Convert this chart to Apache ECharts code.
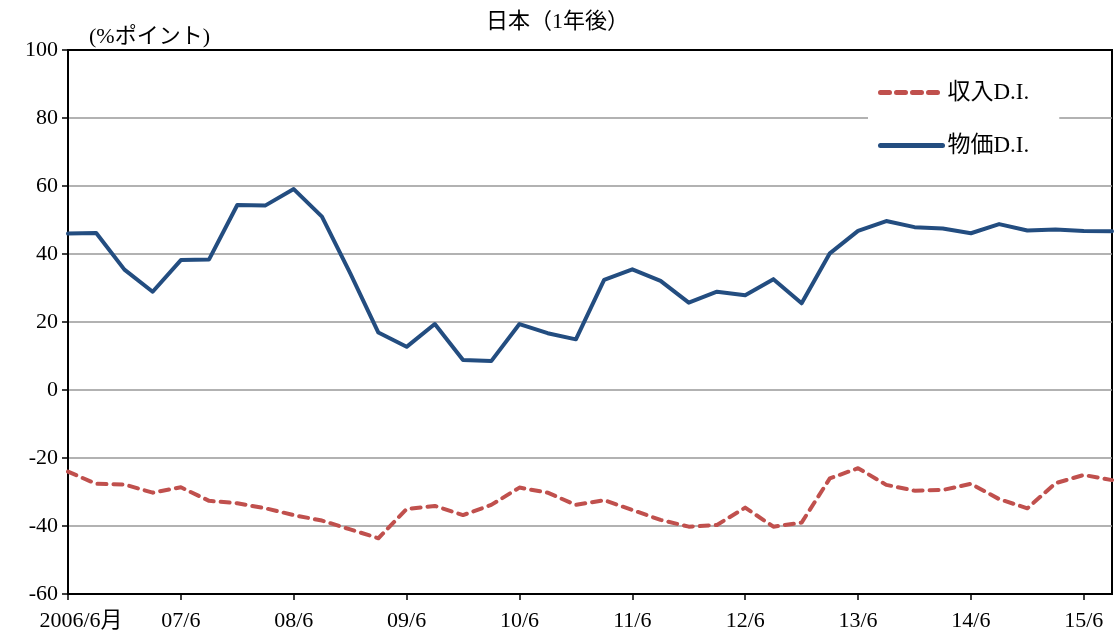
<!DOCTYPE html>
<html>
<head>
<meta charset="utf-8">
<script src="https://cdn.jsdelivr.net/npm/echarts@6/dist/echarts.min.js"></script>
<style>
  html, body { margin: 0; padding: 0; background: #fff; }
  #chart { width: 1115px; height: 638px; }
</style>
</head>
<body>
<div id="chart"></div>
<script>
// 四半期（2006/6 ～ 2015/9）
const quarters = [
  '06/6', '06/9', '06/12', '07/3', '07/6', '07/9', '07/12', '08/3',
  '08/6', '08/9', '08/12', '09/3', '09/6', '09/9', '09/12', '10/3',
  '10/6', '10/9', '10/12', '11/3', '11/6', '11/9', '11/12', '12/3',
  '12/6', '12/9', '12/12', '13/3', '13/6', '13/9', '13/12', '14/3',
  '14/6', '14/9', '14/12', '15/3', '15/6', '15/9'
]
// 収入D.I.
const incomeDI = [
  -24, -27.6, -27.8, -30.2, -28.6, -32.6, -33.3, -34.8,
  -36.8, -38.4, -41, -43.6, -35, -34.1, -36.8, -33.8,
  -28.7, -30.2, -33.8, -32.4, -35.3, -38.2, -40.2, -39.7,
  -34.6, -40.2, -39, -26, -23, -27.9, -29.6, -29.4,
  -27.6, -32.1, -34.8, -27.4, -25, -26.5
]
// 物価D.I.
const priceDI = [
  46, 46.2, 35.4, 28.9, 38.2, 38.4, 54.4, 54.3,
  59.1, 51, 34.4, 16.9, 12.7, 19.4, 8.8, 8.5,
  19.4, 16.7, 14.9, 32.4, 35.5, 32.1, 25.7, 28.9,
  27.9, 32.6, 25.5, 40.2, 46.8, 49.7, 47.9, 47.5,
  46.1, 48.8, 46.9, 47.2, 46.8, 46.7
]

const serifFont = "'Liberation Serif', 'Noto Sans CJK JP', serif"
const chart = echarts.init(document.getElementById('chart'))

const option = {
  animation: false,
  backgroundColor: '#fff',
  textStyle: { fontFamily: serifFont, color: '#000' },
  title: [
    {
      text: '日本（1年後）',
      left: 'center',
      top: 6,
      textStyle: { fontFamily: serifFont, fontSize: 22, fontWeight: 'normal', color: '#000' }
    },
    {
      text: '(%ポイント)',
      left: 84,
      top: 21,
      textStyle: { fontFamily: serifFont, fontSize: 22, fontWeight: 'normal', color: '#000' }
    }
  ],
  grid: {
    left: 68,
    right: 3,
    top: 50,
    bottom: 44,
    show: true,
    borderColor: '#000',
    borderWidth: 2,
    backgroundColor: '#fff'
  },
  legend: {
    orient: 'vertical',
    left: 868,
    top: 73,
    padding: [8, 30, 8, 10],
    backgroundColor: '#fff',
    itemWidth: 62,
    itemHeight: 14,
    itemGap: 30,
    data: ['収入D.I.', '物価D.I.'],
    itemStyle: { opacity: 0 },
    lineStyle: { width: 5 },
    textStyle: { fontFamily: serifFont, fontSize: 23, color: '#000' }
  },
  xAxis: {
    type: 'category',
    data: quarters,
    boundaryGap: false,
    axisLine: { show: true, onZero: false, lineStyle: { color: '#000', width: 2 } },
    axisTick: { show: true, interval: 3, length: 6, lineStyle: { color: '#000', width: 1.5 } },
    axisLabel: {
      interval: 3,
      margin: 16,
      fontSize: 22,
      color: '#000',
      fontFamily: serifFont,
      formatter: (v, i) => (i === 0 ? '{first|2006/6月}' : v),
      rich: {
        first: { fontSize: 22, fontFamily: serifFont, color: '#000', padding: [0, 0, 0, 26] }
      }
    },
    splitLine: { show: false }
  },
  yAxis: {
    type: 'value',
    min: -60,
    max: 100,
    interval: 20,
    axisLine: { show: true, onZero: false, lineStyle: { color: '#000', width: 2 } },
    axisTick: { show: true, inside: false, length: 6, lineStyle: { color: '#000', width: 1.5 } },
    axisLabel: { fontSize: 22, color: '#000', margin: 10, fontFamily: serifFont },
    splitLine: {
      show: true,
      lineStyle: {
        color: ['transparent', '#999', '#999', '#999', '#999', '#999', '#999', '#999', 'transparent'],
        width: 1.5
      }
    }
  },
  series: [
    {
      name: '物価D.I.',
      type: 'line',
      data: priceDI,
      symbol: 'none',
      lineStyle: { color: '#234D80', width: 4, cap: 'round', join: 'round' },
      itemStyle: { color: '#234D80' }
    },
    {
      name: '収入D.I.',
      type: 'line',
      data: incomeDI,
      symbol: 'none',
      lineStyle: { color: '#C0504D', width: 4, type: [9, 7], cap: 'round', join: 'round' },
      itemStyle: { color: '#C0504D' }
    }
  ]
}

chart.setOption(option)
</script>
</body>
</html>
